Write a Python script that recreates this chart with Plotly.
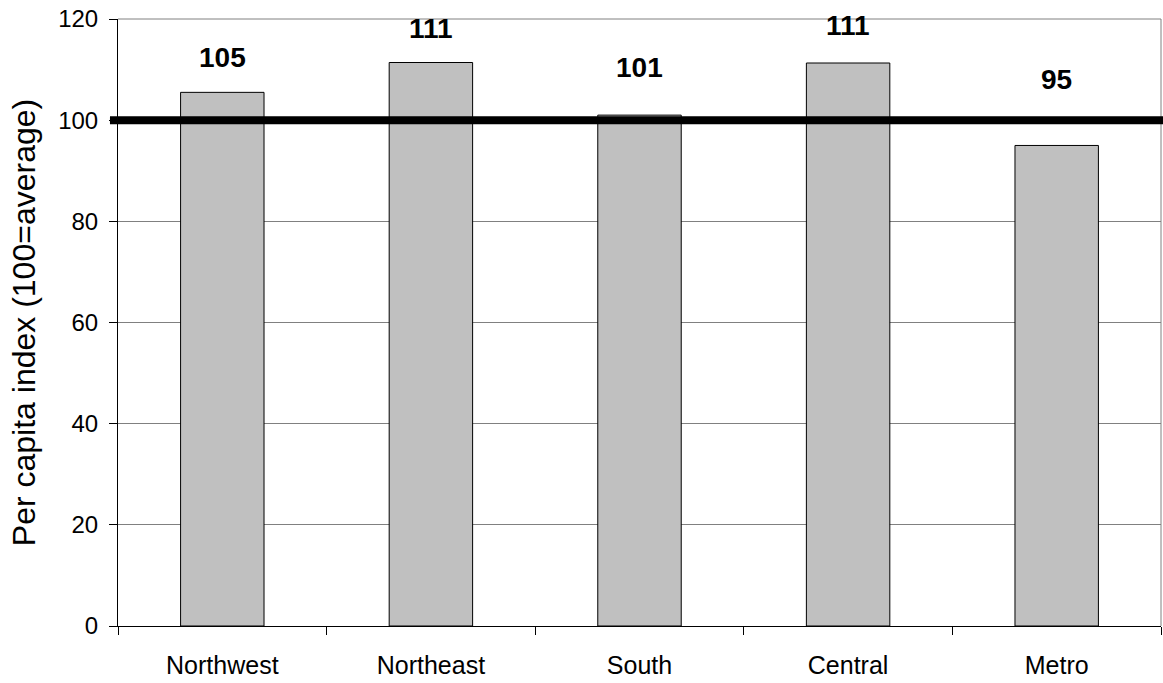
import plotly.graph_objects as go

regions = ["Northwest", "Northeast", "South", "Central", "Metro"]
index_values = [105.5, 111.4, 101.0, 111.3, 95.0]
value_labels = ["105", "111", "101", "111", "95"]
label_y = [112.3, 118.2, 110.5, 118.8, 108.1]
y_ticks = [0, 20, 40, 60, 80, 100, 120]
average_line = 100

FONT = "Liberation Sans, Arial, sans-serif"

fig = go.Figure()
fig.add_trace(go.Bar(
    x=regions, y=index_values,
    marker=dict(color="#C0C0C0", line=dict(color="black", width=1)),
    width=0.4, showlegend=False, hoverinfo="skip",
))

for r, t, yy in zip(regions, value_labels, label_y):
    fig.add_annotation(x=r, y=yy, text="<b>%s</b>" % t, showarrow=False,
                       font=dict(family=FONT, size=28, color="black"),
                       xref="x", yref="y")

# average reference line
fig.add_shape(type="line", xref="paper", yref="y", x0=-0.0077, x1=1.01,
              y0=average_line, y1=average_line,
              line=dict(color="black", width=8), layer="above")
# right border and top gridline of plot area
fig.add_shape(type="line", xref="paper", yref="paper", x0=1, x1=1, y0=0, y1=1,
              line=dict(color="#808080", width=1), layer="below")
fig.add_shape(type="line", xref="paper", yref="paper", x0=0, x1=1, y0=1, y1=1,
              line=dict(color="#808080", width=1), layer="below")

fig.update_layout(
    width=1163, height=683,
    margin=dict(l=118, r=2, t=19, b=57),
    paper_bgcolor="white", plot_bgcolor="white",
    font=dict(family=FONT, size=25, color="black"),
    bargap=0.6,
    xaxis=dict(
        showline=True, linecolor="black", linewidth=1,
        ticks="outside", tickson="boundaries", ticklen=8, tickcolor="black",
        tickfont=dict(size=25), showgrid=False, ticklabelstandoff=17,
        automargin=False,
    ),
    yaxis=dict(
        range=[0, 120], tickvals=y_ticks,
        showline=True, linecolor="black", linewidth=1,
        ticks="outside", ticklen=8, tickcolor="black",
        showgrid=True, gridcolor="#808080", gridwidth=1,
        zeroline=False, ticklabeloverflow="allow", ticklabelstandoff=6,
        tickfont=dict(size=24), automargin=False,
        title=dict(text="Per capita index (100=average)", font=dict(size=32), standoff=12),
    ),
)

fig.write_html("out.html", config={"displayModeBar": False},
               post_script="document.body.style.margin='0px';")
